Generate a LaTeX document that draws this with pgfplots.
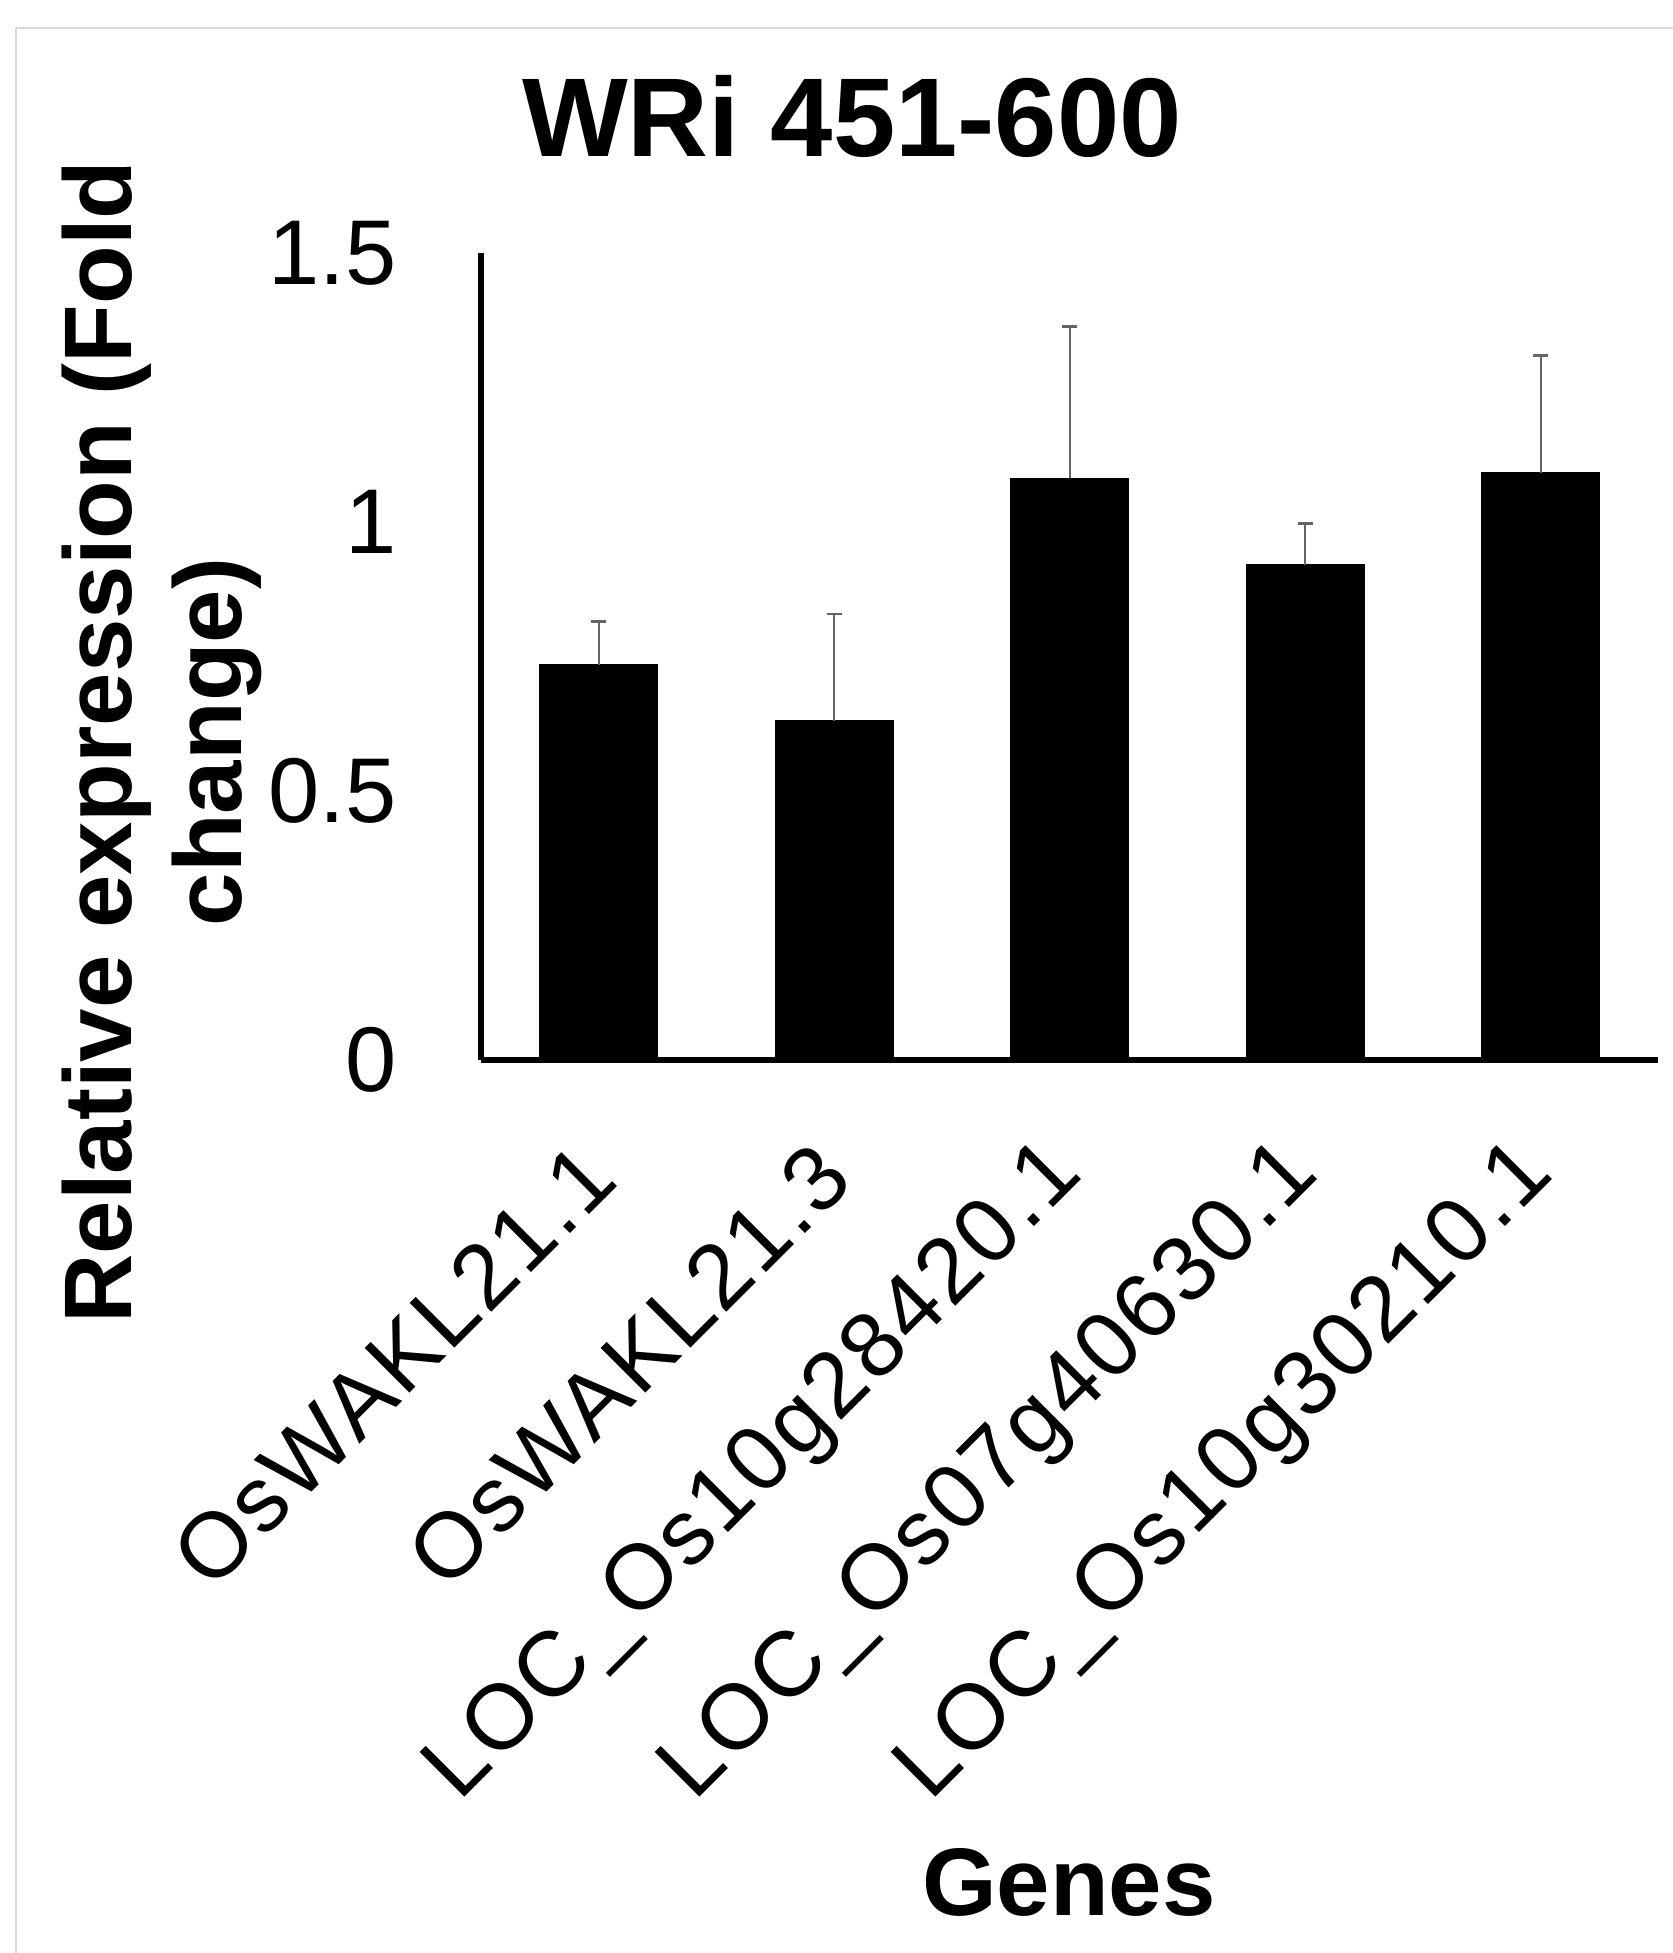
\documentclass[border=0pt]{standalone}
\usepackage{fontspec}
\setmainfont{Liberation Sans}
\usepackage{pgfplots}
\pgfplotsset{compat=1.18}
\definecolor{errgray}{RGB}{100,100,100}
\definecolor{framegray}{RGB}{217,217,217}

\begin{document}
\begin{tikzpicture}
\useasboundingbox (0,0) rectangle (418.25pt,488.25pt);
% thin frame around the chart area
\draw[framegray, line width=0.6pt] (4pt,0) -- (4pt,481.25pt) -- (418.25pt,481.25pt);
\begin{axis}[
  at={(120.25pt,223.25pt)}, anchor=south west,
  scale only axis,
  width=294.375pt, height=201.75pt,
  xmin=0.5, xmax=5.5, ymin=0, ymax=1.5,
  enlargelimits=false,
  clip=false,
  axis x line*=bottom, axis y line*=left,
  x axis line style={line width=1.6pt,-},
  y axis line style={line width=1.3pt,-},
  major tick length=0pt,
  xtick={1,2,3,4,5},
  xticklabels={OsWAKL21.1, OsWAKL21.3, LOC\_Os10g28420.1, LOC\_Os07g40630.1, LOC\_Os10g30210.1},
  ytick={0,0.5,1,1.5},
  yticklabels={0,0.5,1,1.5},
  /pgf/number format/assume math mode=true,
  xticklabel style={font=\fontsize{23}{26}\selectfont\addfontfeature{LetterSpace=3},
    inner sep=0pt, xshift=0pt, yshift=-25pt, rotate=45, anchor=east},
  yticklabel style={font=\fontsize{23}{26}\selectfont, inner sep=0pt,
    anchor=east, xshift=-21pt},
  ybar, bar width=29.25pt,
]
\addplot[fill=black, draw=black,
  error bars/.cd, y dir=plus, y explicit,
  error bar style={errgray, line width=0.45pt},
  error mark=-,
  error mark options={errgray, rotate=90, mark size=1.9pt, line width=0.7pt}]
  table[x=x, y=y, y error=e] {
  x y     e
  1 0.734 0.081
  2 0.631 0.198
  3 1.081 0.283
  4 0.921 0.076
  5 1.091 0.219
  };
\end{axis}
\node[font=\bfseries\fontsize{28}{32}\selectfont] at (213pt,459.25pt) {WRi 451-600};
\node[rotate=90, align=center, font=\bfseries\fontsize{24}{27.5}\selectfont]
  at (40.5pt,302.75pt) {Relative expression (Fold\\change)};
\node[font=\bfseries\fontsize{24}{28}\selectfont] at (267.25pt,17.75pt) {Genes};
\end{tikzpicture}
\end{document}
